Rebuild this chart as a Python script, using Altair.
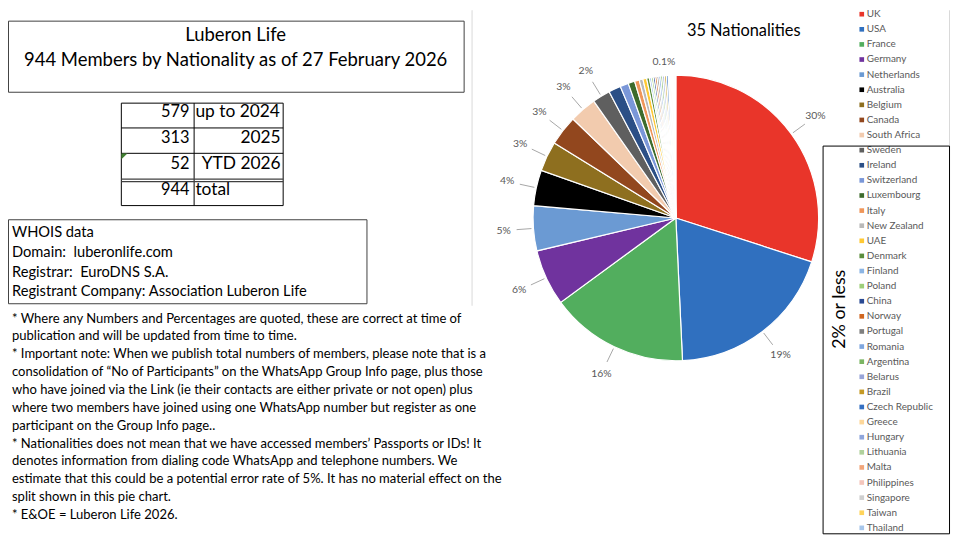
import altair as alt
import pandas as pd

# ---------------- data ----------------
countries = ["UK", "USA", "France", "Germany", "Netherlands", "Australia", "Belgium",
             "Canada", "South Africa", "Sweden", "Ireland", "Switzerland", "Luxembourg",
             "Italy", "New Zealand", "UAE", "Denmark", "Finland", "Poland", "China",
             "Norway", "Portugal", "Romania", "Argentina", "Belarus", "Brazil",
             "Czech Republic", "Greece", "Hungary", "Lithuania", "Malta", "Philippines",
             "Singapore", "Taiwan", "Thailand"]
members = [283, 182, 148, 60, 48, 38, 32, 32, 29, 19, 13, 9, 7,
           5, 4, 4, 3, 2, 2, 2,
           2, 2, 2, 2, 2, 2,
           2, 1, 1, 1, 1, 1,
           1, 1, 1]
colors = ["#E9352A", "#3070BF", "#52AE5E", "#70339E", "#6B9AD3", "#000000", "#8E6F1F",
          "#92471E", "#F2CBAE", "#5F5F5F", "#2B4F86", "#7A97D8", "#3D6B2C",
          "#EF965A", "#B9B9B9", "#FFC934", "#5A8D3B", "#8CB5E4", "#9ECF79", "#2A4A93",
          "#D0661F", "#7F7F7F", "#7FA6DE", "#7BB563", "#98A4D8", "#C59A25",
          "#3570C2", "#FDD79A", "#8FA5DB", "#B0D19C", "#F1A57A", "#F4C6BC",
          "#CFCFCF", "#FFD45A", "#A7C6EA"]
labelled = countries[:10] + ["Thailand"]

periods = ["up to 2024", "2025", "YTD 2026", "total"]
period_counts = [579, 313, 52, 944]
left_aligned_periods = ["up to 2024", "total"]

title_lines = ["Luberon Life", "944 Members by Nationality as of 27 February 2026"]
chart_title = "35 Nationalities"
group_label = "2% or less"
whois_lines = ["WHOIS data",
               "Domain:\u00a0 luberonlife.com",
               "Registrar:\u00a0 EuroDNS S.A.",
               "Registrant Company: Association Luberon Life"]
note_lines = [
    "* Where any Numbers and Percentages are quoted, these are correct at time of",
    "publication and will be updated from time to time.",
    "* Important note: When we publish total numbers of members, please note that is a",
    "consolidation of \u201cNo of Participants\u201d on the WhatsApp Group Info page, plus those",
    "who have joined via the Link (ie their contacts are either private or not open) plus",
    "where two members have joined using one WhatsApp number but register as one",
    "participant on the Group Info page..",
    "* Nationalities does not mean that we have accessed members\u2019 Passports or IDs! It",
    "denotes information from dialing code WhatsApp and telephone numbers. We",
    "estimate that this could be a potential error rate of 5%. It has no material effect on the",
    "split shown in this pie chart.",
    "* E&OE = Luberon Life 2026.",
]

# ---------------- layout ----------------
W, H = 952, 532
CX, CY, R = 673.5, 209.5, 144
FONT = "Lato"
GREY = "#595959"

total = sum(members)


def pct_label(c, m):
    if c not in labelled:
        return ""
    p = 100.0 * m / total
    return f"{p:.1f}%" if p < 1 else f"{round(p)}%"


df = pd.DataFrame({"country": countries, "members": members,
                   "idx": list(range(len(countries)))})
df["label"] = [pct_label(c, m) for c, m in zip(countries, members)]
tdf = pd.DataFrame({"period": periods, "count": period_counts})
one = pd.DataFrame({"k": [0]})

color = alt.Color("country:N", scale=alt.Scale(domain=countries, range=colors), legend=None)


def box(x, x2, y, y2, stroke, fill="transparent", sw=1.0):
    return alt.Chart(one).mark_rect(fill=fill, stroke=stroke, strokeWidth=sw).encode(
        x=alt.value(x), x2=alt.value(x2), y=alt.value(y), y2=alt.value(y2))


def hline(x, x2, y, col="#000000", sw=1.0):
    return alt.Chart(one).mark_rule(color=col, strokeWidth=sw).encode(
        x=alt.value(x), x2=alt.value(x2), y=alt.value(y))


def vline(x, y, y2, col="#000000", sw=1.0):
    return alt.Chart(one).mark_rule(color=col, strokeWidth=sw).encode(
        x=alt.value(x), y=alt.value(y), y2=alt.value(y2))


def text_block(lines, x, y, size, align="left", lh=18, col="#000000",
               baseline="alphabetic", angle=0):
    return alt.Chart(one).mark_text(text=lines, align=align, baseline=baseline, font=FONT,
                                    fontSize=size, lineHeight=lh, color=col,
                                    angle=angle).encode(x=alt.value(x), y=alt.value(y))


layers = []

# chart panel border
layers.append(vline(468, 0, 298, col="#D9D9D9"))
layers.append(vline(949.5, 0, 137, col="#D9D9D9"))

# pie
layers.append(alt.Chart(df).mark_arc(radius=R, stroke="white", strokeWidth=1.2).encode(
    theta=alt.Theta("members:Q", stack=True),
    color=color,
    order=alt.Order("idx:Q"),
    x=alt.value(CX), y=alt.value(CY)))

polar = alt.Chart(df).transform_joinaggregate(total="sum(members)").transform_window(
    cum="sum(members)", sort=[alt.SortField("idx")], frame=[None, 0]
).transform_calculate(
    mid="2*PI*(datum.cum - datum.members/2)/datum.total"
).transform_filter(alt.FieldOneOfPredicate(field="country", oneOf=labelled))

smallest = labelled[-1]

layers.append(polar.transform_filter(f"datum.country != '{smallest}'").transform_calculate(
    x1=f"{CX} + {R + 2}*sin(datum.mid)", y1=f"{CY} - {R + 2}*cos(datum.mid)",
    x2=f"{CX} + 161*sin(datum.mid)", y2=f"{CY} - 161*cos(datum.mid)"
).mark_rule(color="#A6A6A6", strokeWidth=1).encode(
    x=alt.X("x1:Q", scale=None), y=alt.Y("y1:Q", scale=None), x2="x2:Q", y2="y2:Q"))


def lab_layer(expr, r, align, dx):
    return polar.transform_filter(expr).transform_calculate(
        tx=f"{CX} + {r}*sin(datum.mid)", ty=f"{CY} - {r}*cos(datum.mid)"
    ).mark_text(align=align, baseline="middle", dx=dx, font=FONT, fontSize=10.5,
                color=GREY).encode(
        x=alt.X("tx:Q", scale=None), y=alt.Y("ty:Q", scale=None), text="label:N")


layers.append(lab_layer(f"datum.country != '{smallest}'", 174, "center", 0))
layers.append(lab_layer(f"datum.country == '{smallest}'", 157, "right", 0))

# chart title
layers.append(text_block(chart_title, 742, 26, 16.5, align="center"))

# legend
legend_y = alt.Y("country:N", sort=countries,
                 scale=alt.Scale(domain=countries, range=[4, 522], padding=0), axis=None)
layers.append(alt.Chart(df).mark_square(size=22, opacity=1).encode(
    x=alt.value(861), y=legend_y, color=color))
layers.append(alt.Chart(df).mark_text(align="left", baseline="middle", font=FONT,
                                      fontSize=10, color=GREY).encode(
    x=alt.value(866), y=legend_y, text="country:N"))

# "2% or less" box
layers.append(box(822, 949.5, 137, 528, stroke="#000000", sw=1))
layers.append(text_block(group_label, 839, 301.5, 18, align="center",
                         baseline="middle", angle=270))

# title box
layers.append(box(0.5, 460, 11, 82.7, stroke="#404040", fill="white"))
layers.append(text_block(title_lines, 229.6, 31, 18.6, align="center", lh=25))

# summary table
layers.append(box(114.3, 277.5, 93.7, 197, stroke="#000000", fill="white"))
layers.append(vline(187.7, 93.7, 197))
layers.append(hline(114.3, 277.5, 118.7))
layers.append(hline(114.3, 277.5, 144.3))
layers.append(hline(114.3, 277.5, 170.3, col="#404040", sw=1.3))
layers.append(hline(114.3, 277.5, 172.9, col="#404040", sw=1.3))
layers.append(alt.Chart(one).mark_point(shape="M -1 -1 L 1 -1 L -1 1 Z", filled=True,
                                        size=36, opacity=1, color="#3F7F2F").encode(
    x=alt.value(117.4), y=alt.value(147.4)))
table_y = alt.Y("period:N", sort=periods,
                scale=alt.Scale(domain=periods, range=[103, 181.5], padding=0), axis=None)
layers.append(alt.Chart(tdf).mark_text(align="right", baseline="middle", font=FONT,
                                       fontSize=16.5).encode(
    x=alt.value(183), y=table_y, text="count:Q"))
layers.append(alt.Chart(tdf).transform_filter(
    alt.FieldOneOfPredicate(field="period", oneOf=left_aligned_periods)
).mark_text(align="left", baseline="middle", font=FONT, fontSize=17.5).encode(
    x=alt.value(189), y=table_y, text="period:N"))
layers.append(alt.Chart(tdf).transform_filter(
    {"not": alt.FieldOneOfPredicate(field="period", oneOf=left_aligned_periods).to_dict()}
).mark_text(align="right", baseline="middle", font=FONT, fontSize=17.5).encode(
    x=alt.value(275), y=table_y, text="period:N"))

# WHOIS box
layers.append(box(0.5, 362, 211.3, 296, stroke="#404040", fill="white"))
layers.append(text_block(whois_lines, 4, 228.7, 14.8, lh=20))

# notes
layers.append(text_block(note_lines, 4, 315, 13.15, lh=18))

chart = alt.layer(*layers).resolve_scale(
    x="independent", y="independent"
).properties(
    width=W, height=H, padding=0, autosize=alt.AutoSizeParams(type="none")
).configure_view(stroke=None)

chart.save("out.html", embed_options={"renderer": "svg", "actions": False})
